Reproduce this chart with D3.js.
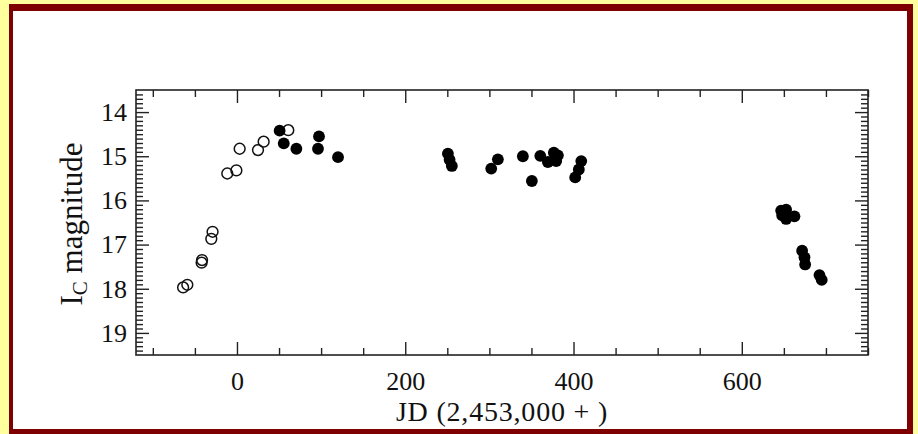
<!DOCTYPE html>
<html>
<head>
<meta charset="utf-8">
<script src="https://cdn.jsdelivr.net/npm/d3@7"></script>
<style>
  html, body { margin: 0; padding: 0; background: #ffff9e; }
  svg { display: block; }
  text { font-family: "Liberation Serif", "Times New Roman", serif; fill: #111; }
</style>
</head>
<body>
<svg id="chart" width="918" height="434"></svg>
<script>
// Light curve: I_C magnitude versus Julian Date (offset 2,453,000)
// Open circles: pre-maximum / early photometry
const openJD  = [-64, -59, -42, -41.5, -30.5, -29, -11.5, -0.7, 3.2, 25, 31.7, 61];
const openMag = [17.97, 17.91, 17.41, 17.35, 16.87, 16.71, 15.39, 15.32, 14.83, 14.86, 14.67, 14.41];

// Filled circles: later photometry
const filledJD  = [50.7, 55.6, 70.6, 97.5, 96.3, 120.1,
                   250.7, 252.7, 255.4, 310.1, 302.2, 339.8, 350.5, 360.5, 369.5,
                   376.6, 381.4, 379.4, 409.2, 406.3, 402,
                   646.8, 652.7, 648, 652.7, 662.6, 671.7, 674.5, 675.3, 692.3, 695];
const filledMag = [14.42, 14.71, 14.83, 14.55, 14.83, 15.02,
                   14.94, 15.08, 15.22, 15.07, 15.28, 15.0, 15.56, 14.99, 15.13,
                   14.92, 14.98, 15.11, 15.11, 15.30, 15.48,
                   16.23, 16.21, 16.34, 16.42, 16.36, 17.14, 17.29, 17.45, 17.69, 17.80];

const xMajorTicks = [0, 200, 400, 600];
const yMajorTicks = [14, 15, 16, 17, 18, 19];
const xDomain = [-120, 750];
const yDomain = [13.5, 19.5];

const svg = d3.select("#chart");
const W = 918, H = 434;

// Page frame: dark red border around white panel
svg.append("rect").attr("x", 0).attr("y", 0).attr("width", W).attr("height", H).attr("fill", "#ffff9e");
svg.append("rect").attr("x", 9).attr("y", 4).attr("width", 904).attr("height", 434).attr("fill", "#7f0000");
svg.append("rect").attr("x", 13).attr("y", 11).attr("width", 894).attr("height", 418).attr("fill", "#ffffff");

const plot = { left: 136, right: 868, top: 90, bottom: 355 };

const x = d3.scaleLinear().domain(xDomain).range([plot.left, plot.right]);
const y = d3.scaleLinear().domain(yDomain).range([plot.top, plot.bottom]);

const xMinor = d3.range(-100, 751, 50).filter(v => !xMajorTicks.includes(v));
const yMinor = d3.range(136, 195).map(v => v / 10).filter(v => !yMajorTicks.includes(v));

const MAJ = 13, MIN = 7;
const axisStroke = "#222";

function styleAxis(g) {
  g.select(".domain").remove();
  g.attr("font-family", null);
  g.selectAll(".tick line").attr("stroke", axisStroke).attr("stroke-width", 1.4);
}

// Bottom axis with labels
const gB = svg.append("g").attr("transform", `translate(0,${plot.bottom})`);
gB.call(d3.axisBottom(x).tickValues(xMajorTicks).tickSize(-MAJ).tickPadding(17).tickFormat(d3.format("d")));
gB.call(styleAxis);
gB.selectAll(".tick text").attr("font-size", 26).attr("fill", "#111");
svg.append("g").attr("transform", `translate(0,${plot.bottom})`)
  .call(d3.axisBottom(x).tickValues(xMinor).tickSize(-MIN).tickFormat(""))
  .call(styleAxis);

// Top axis (ticks only)
svg.append("g").attr("transform", `translate(0,${plot.top})`)
  .call(d3.axisTop(x).tickValues(xMajorTicks).tickSize(-MAJ).tickFormat(""))
  .call(styleAxis);
svg.append("g").attr("transform", `translate(0,${plot.top})`)
  .call(d3.axisTop(x).tickValues(xMinor).tickSize(-MIN).tickFormat(""))
  .call(styleAxis);

// Left axis with labels
const gL = svg.append("g").attr("transform", `translate(${plot.left},0)`);
gL.call(d3.axisLeft(y).tickValues(yMajorTicks).tickSize(-MAJ).tickPadding(9).tickFormat(d3.format("d")));
gL.call(styleAxis);
gL.selectAll(".tick text").attr("font-size", 26).attr("fill", "#111");
svg.append("g").attr("transform", `translate(${plot.left},0)`)
  .call(d3.axisLeft(y).tickValues(yMinor).tickSize(-MIN).tickFormat(""))
  .call(styleAxis);

// Right axis (ticks only)
svg.append("g").attr("transform", `translate(${plot.right},0)`)
  .call(d3.axisRight(y).tickValues(yMajorTicks).tickSize(-MAJ).tickFormat(""))
  .call(styleAxis);
svg.append("g").attr("transform", `translate(${plot.right},0)`)
  .call(d3.axisRight(y).tickValues(yMinor).tickSize(-MIN).tickFormat(""))
  .call(styleAxis);

// Plot frame
svg.append("rect")
  .attr("x", plot.left).attr("y", plot.top)
  .attr("width", plot.right - plot.left).attr("height", plot.bottom - plot.top)
  .attr("fill", "none").attr("stroke", axisStroke).attr("stroke-width", 1.6);

// Data points
const pts = svg.append("g");
pts.selectAll("circle.open")
  .data(d3.zip(openJD, openMag))
  .join("circle").attr("class", "open")
  .attr("cx", d => x(d[0])).attr("cy", d => y(d[1])).attr("r", 5.4)
  .attr("fill", "none").attr("stroke", "#111").attr("stroke-width", 1.5);
pts.selectAll("circle.filled")
  .data(d3.zip(filledJD, filledMag))
  .join("circle").attr("class", "filled")
  .attr("cx", d => x(d[0])).attr("cy", d => y(d[1])).attr("r", 5.9)
  .attr("fill", "#000");

// Axis titles
svg.append("text")
  .attr("x", (plot.left + plot.right) / 2).attr("y", 421)
  .attr("text-anchor", "middle").attr("font-size", 28)
  .attr("letter-spacing", 0.8)
  .text("JD (2,453,000 + )");

const yt = svg.append("text")
  .attr("transform", `translate(82,224) rotate(-90)`)
  .attr("text-anchor", "middle").attr("font-size", 31);
yt.append("tspan").text("I");
yt.append("tspan").attr("font-size", 21).attr("dy", 5).text("C");
yt.append("tspan").attr("dy", -5).text(" magnitude");
</script>
</body>
</html>
